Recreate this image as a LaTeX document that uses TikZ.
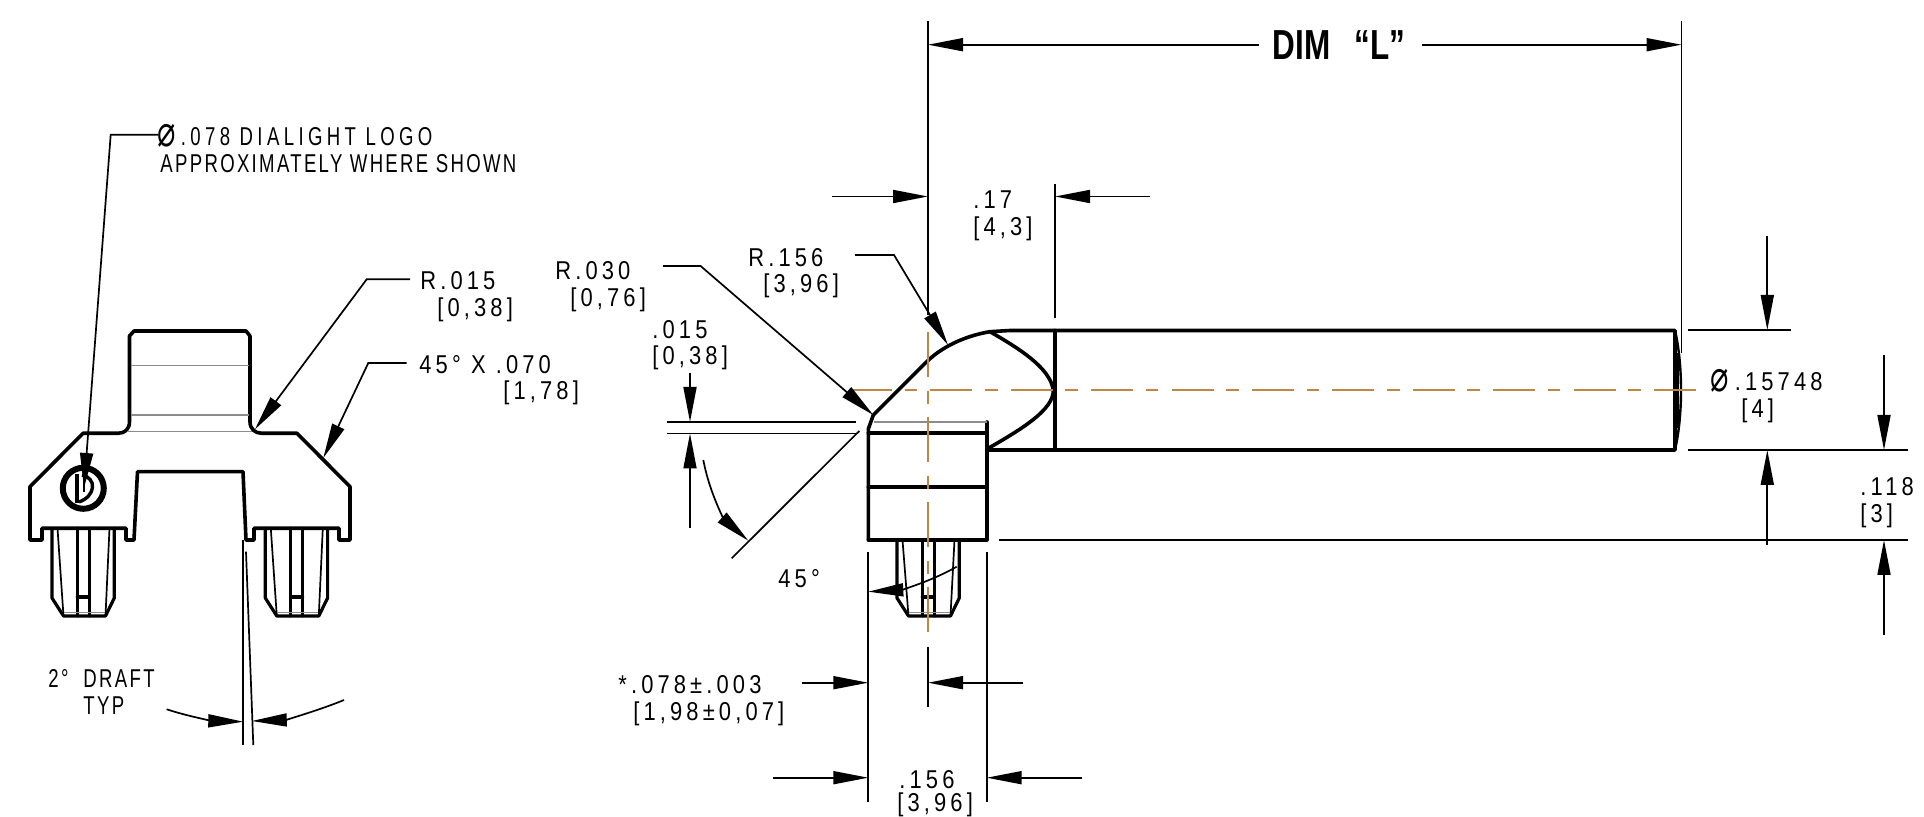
\documentclass[tikz,border=0pt]{standalone}
\usepackage{fontspec}
\usetikzlibrary{arrows.meta}
\setmainfont[FakeStretch=0.72,LetterSpace=9]{Liberation Sans}
\newfontfamily\numfont[FakeStretch=0.85,LetterSpace=16]{Liberation Sans}
\newfontfamily\logofont[FakeStretch=0.72,LetterSpace=17]{Liberation Sans}
\newfontfamily\boldfont[FakeStretch=0.75]{Liberation Sans Bold}
\newfontfamily\symfont{DejaVu Sans}
\newcommand{\phisym}{\raisebox{-0.6pt}{\scalebox{0.85}[1.2]{\symfont\fontsize{18}{18}\selectfont ⌀}}}
\definecolor{centercol}{RGB}{190,135,70}
\tikzset{
  outline/.style={line width=1.8pt, line join=round, line cap=round},
  footline/.style={line width=1.6pt, line join=round, line cap=round},
  thinline/.style={line width=0.85pt},
  greyline/.style={line width=0.7pt, black!45},
  dimarrow/.style={line width=0.85pt, -{Triangle[length=17.5pt,width=6.5pt]}},
  centerline/.style={line width=0.85pt, centercol},
  dimtext/.style={anchor=base west, inner sep=0pt, yshift=-0.7pt, font=\fontsize{12.9}{14}\selectfont},
  numtext/.style={dimtext, font=\fontsize{12.9}{14}\numfont}
}
\begin{document}
\begin{tikzpicture}[x=0.5pt, y=-0.5pt]
    \useasboundingbox (0,0) rectangle (1924,817);

    % Front view, body
    \draw[outline] (129.5,336) -- (134,331) -- (246,331) -- (250,336) -- (250,421.7)
      .. controls (250,429) and (255,433.3) .. (262,433.3) -- (297,433.3) -- (350,486.7)
      -- (350,540) -- (339,540) -- (339,528.3) -- (254,528.3) -- (254,540) -- (246,540)
      -- (243,471.7) -- (137.5,471.7) -- (134,540) -- (126,540) -- (126,528.3) -- (42,528.3)
      -- (42,540) -- (30,540) -- (30,486.7) -- (83,433.3) -- (118,433.3)
      .. controls (125,433.3) and (129.5,429) .. (129.5,421.7) -- cycle;
    \draw[greyline] (131,365.7) -- (249,365.7);
    \draw[greyline] (131,415) -- (249,415);
    \draw[greyline] (127,431.7) -- (252,431.7);

    % Feet
    \foreach \dx/\ty in {0/528.3, 213.3/528.3, 845/540} {
      \begin{scope}[shift={(\dx,0)}]
        \draw[footline] (52,\ty) -- (52,598) -- (63.5,616) -- (105.5,616) -- (114.3,598) -- (114.3,\ty);
        \draw[footline] (77.3,\ty) -- (77.3,616);
        \draw[footline] (89.3,\ty) -- (89.3,616);
        \draw[footline] (77.3,597) -- (89.3,597);
        \draw[thinline] (57.5,\ty) -- (63.5,616);
        \draw[thinline] (109.5,\ty) -- (105.5,616);
        \draw[greyline] (64,612.7) -- (105,612.7);
      \end{scope}
    }

    % Logo
    \draw[line width=3pt] (83.3,488.3) circle (20.5);
    \draw[line width=2.4pt] (77,474) -- (77,503);
    \draw[line width=1.7pt] (82,475) .. controls (97,478) and (96,496) .. (79,502);
    \draw[line width=1.1pt] (84,477) -- (84,492);

    % Logo leader
    \node[dimtext, font=\fontsize{12.9}{14}\logofont] (logotop) at (157,144) {\phisym\hspace{2.5pt}.078 DIALIGHT LOGO};
    \node[dimtext] (logobot) at (160,171) {APPROXIMATELY WHERE SHOWN};
    \draw[dimarrow] (158,134.7) -- (110.7,134.7) -- (84,488);

    % Radius and chamfer on front view
    \node[numtext] (rsmall) at (420,288) {R.015};
    \node[numtext] (rsmallmm) at (437,315) {[0,38]};
    \draw[dimarrow] (410,279.3) -- (366.7,279.3) -- (255,429.3);
    \node[numtext] (chamfer) at (419,372) {45°\ X\ .070};
    \node[numtext] (chamfermm) at (503,398) {[1,78]};
    \draw[dimarrow] (406.7,363) -- (368.3,363) -- (323.3,458);

    % Draft
    \draw[thinline] (243.3,540) -- (243.3,745);
    \draw[thinline] (246,551.7) -- (253.3,745);
    \draw[dimarrow] (166.7,709.3) .. controls (190,717) and (215,721) .. (243.3,721.7);
    \draw[dimarrow] (344,700) .. controls (320,710) and (285,720) .. (251.8,721);
    \node[dimtext] (draft) at (48,686) {2°\ \ DRAFT};
    \node[dimtext] (typ) at (83,713) {TYP};

    % Side view, rod
    \draw[outline] (868.3,540) -- (868.3,429) -- (873.3,415) -- (926.7,361.7)
      .. controls (945,344) and (970,335) .. (990,331.7) -- (1010,330.5) -- (1675,330.5) -- (1675,450) -- (986.7,450);
    \draw[outline] (868.3,540) -- (986.7,540) -- (986.7,422);
    \draw[outline] (868.3,433.3) -- (986.7,433.3);
    \draw[outline] (868.3,487.3) -- (986.7,487.3);
    \draw[outline] (1055,330.5) -- (1055,450);
    \draw[outline] (990,331.7) .. controls (1020,349) and (1050,368) .. (1053.3,390)
      .. controls (1054,410) and (1020,430) .. (988.3,448.3);
    \draw[greyline] (874,422) -- (986.7,422);
    \draw[line width=1.2pt] (1675,330.5) .. controls (1683,365) and (1683,415) .. (1675,450);
    \draw[thinline] (1678,353) -- (1678,428);

    % Center lines
    \draw[centerline, dash pattern=on 21pt off 6.3pt on 6.3pt off 6.6pt] (850,390) -- (1700,390);
    \draw[centerline, dash pattern=on 22.5pt off 7pt on 6.5pt off 6.5pt] (927.7,332) -- (927.7,635);

    % Overall length
    \draw[thinline] (928,21) -- (928,315);
    \draw[thinline] (1681.5,21) -- (1681.5,353);
    \node[inner sep=0pt, font=\fontsize{21}{23}\boldfont] (diml) at (1339,45.5) {DIM\ \ \,“L”};
    \draw[dimarrow] (1259,44.7) -- (928,44.7);
    \draw[dimarrow] (1422,44.7) -- (1681.5,44.7);

    % Bend length
    \draw[thinline] (1055,184) -- (1055,318);
    \draw[dimarrow] (832,196.5) -- (928,196.5);
    \draw[dimarrow] (1150,196.5) -- (1055,196.5);
    \node[numtext] (bend) at (973,207) {.17};
    \node[numtext] (bendmm) at (973,234) {[4,3]};

    % Radii on side view
    \node[numtext] (rlarge) at (748,265) {R.156};
    \node[numtext] (rlargemm) at (763,291) {[3,96]};
    \draw[dimarrow] (855,255) -- (894,255) -- (948,345);
    \node[numtext] (rmid) at (555,278) {R.030};
    \node[numtext] (rmidmm) at (570,305) {[0,76]};
    \draw[dimarrow] (663,266) -- (700.6,266) -- (873.3,415);

    % Chamfer on side view
    \node[numtext] (flat) at (652,337) {.015};
    \node[numtext] (flatmm) at (652,363) {[0,38]};
    \draw[thinline] (666.7,422) -- (856,422);
    \draw[thinline] (666.7,433.5) -- (858,433.5);
    \draw[dimarrow] (690,372.7) -- (690,422);
    \draw[dimarrow] (690,528) -- (690,433.5);
    \draw[thinline] (731.7,558.3) -- (859.3,431);
    \draw[dimarrow] (703.3,460) .. controls (710,495) and (725,520) .. (748.3,540.7);
    \draw[dimarrow] (956.7,566.7) .. controls (930,582) and (900,590) .. (868.3,591.7);
    \node[numtext] (angle) at (778,586) {45°};

    % Pin width and offset
    \draw[thinline] (868.3,552) -- (868.3,801.7);
    \draw[thinline] (986.7,552) -- (986.7,801.7);
    \draw[thinline] (928,647) -- (928,706.7);
    \draw[dimarrow] (802.3,682.7) -- (868.3,682.7);
    \draw[dimarrow] (1022.7,682.7) -- (928,682.7);
    \draw[dimarrow] (773,777.7) -- (868.3,777.7);
    \draw[dimarrow] (1081.7,777.7) -- (986.7,777.7);
    \node[numtext] (offset) at (618,692) {*.078±.003};
    \node[numtext] (offsetmm) at (633,719) {[1,98±0,07]};
    \node[numtext] (pin) at (899,787) {.156};
    \node[numtext] (pinmm) at (897,810.5) {[3,96]};

    % Rod diameter and height
    \draw[thinline] (1687.7,330) -- (1791,330);
    \draw[thinline] (1687.7,450) -- (1907.7,450);
    \draw[thinline] (999,540) -- (1907.7,540);
    \draw[dimarrow] (1767.3,235.7) -- (1767.3,330);
    \draw[dimarrow] (1767.3,545) -- (1767.3,450);
    \draw[dimarrow] (1884,355) -- (1884,450);
    \draw[dimarrow] (1884,635) -- (1884,540);
    \node[numtext] (dia) at (1710,389) {\phisym\hspace{3pt}.15748};
    \node[numtext] (diamm) at (1741,416) {[4]};
    \node[numtext] (height) at (1860,494) {.118};
    \node[numtext] (heightmm) at (1860,521) {[3]};
\end{tikzpicture}
\end{document}
